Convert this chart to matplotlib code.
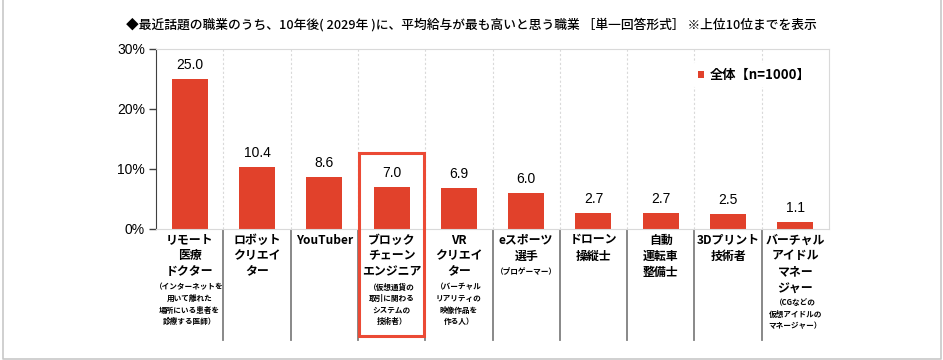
import matplotlib
matplotlib.use("Agg")
import matplotlib.pyplot as plt
from matplotlib.patches import Rectangle
from matplotlib.lines import Line2D

plt.rcParams['font.family'] = ['Noto Sans CJK JP', 'DejaVu Sans']

# データ
names = [
    ["リモート", "医療", "ドクター"],
    ["ロボット", "クリエイ", "ター"],
    ["YouTuber"],
    ["ブロック", "チェーン", "エンジニア"],
    ["VR", "クリエイ", "ター"],
    ["eスポーツ", "選手"],
    ["ドローン", "操縦士"],
    ["自動", "運転車", "整備士"],
    ["3Dプリント", "技術者"],
    ["バーチャル", "アイドル", "マネー", "ジャー"],
]
notes = [
    ["（インターネットを", "用いて離れた", "場所にいる患者を", "診療する医師）"],
    [],
    [],
    ["（仮想通貨の", "取引に関わる", "システムの", "技術者）"],
    ["（バーチャル", "リアリティの", "映像作品を", "作る人）"],
    ["（プロゲーマー）"],
    [],
    [],
    [],
    ["（CGなどの", "仮想アイドルの", "マネージャー）"],
]
values = [25.0, 10.4, 8.6, 7.0, 6.9, 6.0, 2.7, 2.7, 2.5, 1.1]
yticks = [0, 10, 20, 30]
series_label = "全体【n=1000】"
title = "◆最近話題の職業のうち、10年後( 2029年 )に、平均給与が最も高いと思う職業 ［単一回答形式］ ※上位10位までを表示"

W, H = 943, 360
bar_color = '#E1412B'
num_font = ['Liberation Sans', 'Noto Sans CJK JP']

fig = plt.figure(figsize=(W / 100, H / 100), dpi=100)
ax_l, ax_r, ax_t, ax_b = 156, 829, 49, 229
ax = fig.add_axes([ax_l / W, 1 - ax_b / H, (ax_r - ax_l) / W, (ax_b - ax_t) / H])

n = len(values)
x = list(range(n))
bars = ax.bar(x, values, width=0.535, color=bar_color, label=series_label, zorder=2)
ax.set_xlim(-0.5, n - 0.5)
ax.set_ylim(0, 30)

# 値ラベル
for xi, v in zip(x, values):
    ax.annotate(f"{v:.1f}", (xi, v), xytext=(0, 5), textcoords='offset points',
                ha='center', va='bottom', fontsize=10, family=num_font)

# 軸
ax.set_yticks(yticks)
ax.set_yticklabels([f"{t}%" for t in yticks], family=num_font, fontsize=10)
ax.set_xticks([])
ax.tick_params(axis='y', direction='out', length=5, width=1, color='#404040', pad=3)
ax.spines['left'].set_color('#404040')
for s in ['top', 'right', 'bottom']:
    ax.spines[s].set_color('#D9D9D9')

# 区切り線（点線）
for b in range(1, n):
    ax.axvline(b - 0.5, color='#D9D9D9', lw=0.8, ls=(0, (2, 2)), zorder=1)

# 軸下の区切り線とラベル
def yfrac(ypix):
    return (ax_b - ypix) / (ax_b - ax_t)

trans = ax.get_xaxis_transform()
for b in range(1, n):
    ax.add_line(Line2D([b - 0.5, b - 0.5], [yfrac(230), yfrac(340)], transform=trans,
                       color='#7F7F7F', lw=1.3, clip_on=False))

for xi, (nm, nt) in enumerate(zip(names, notes)):
    for j, line in enumerate(nm):
        ax.text(xi, yfrac(240 + 16 * j), line, transform=trans, ha='center', va='center',
                fontsize=8.6, fontweight='bold', clip_on=False)
    y0 = 240 + 16 * len(nm) - 1
    for j, line in enumerate(nt):
        ax.text(xi, yfrac(y0 + 11.5 * j), line, transform=trans, ha='center', va='center',
                fontsize=5.5, fontweight='bold', clip_on=False)

# 強調枠
ax.add_patch(Rectangle((2.5 + 0.02, yfrac(336)), 1 - 0.04, yfrac(153) - yfrac(336),
                       transform=trans, fill=False, edgecolor='#EB4A35', lw=2.2,
                       clip_on=False, zorder=5))

# 凡例
leg = ax.legend(loc='upper right', bbox_to_anchor=(0.99, 0.96), frameon=True,
                handlelength=0.5, handleheight=0.5, handletextpad=0.4,
                prop={'weight': 'bold', 'size': 9.5})
leg.get_frame().set_edgecolor('none')
leg.get_frame().set_facecolor('white')
leg.get_frame().set_alpha(1)

# タイトル
fig.text(0.5, 1 - 25 / H, title, ha='center', va='center', fontsize=9.2, fontweight='medium')

# 外枠
fig.add_artist(Line2D([2.5 / W, 2.5 / W, 940.5 / W, 940.5 / W],
                      [1, 1 - 358.5 / H, 1 - 358.5 / H, 1], transform=fig.transFigure,
                      color='#C8C8C8', lw=1.2))

fig.savefig('out.png', dpi=100)
